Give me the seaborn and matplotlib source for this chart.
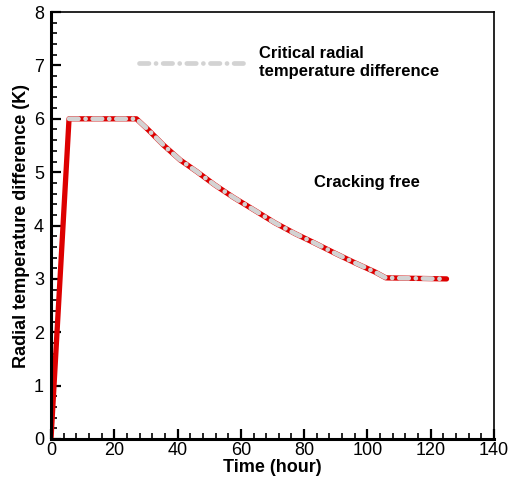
import matplotlib
matplotlib.use("Agg")
import matplotlib.pyplot as plt
import seaborn as sns
import pandas as pd
import numpy as np

# Data
time_red = [0.0, 5.7, 27.0, 30.8, 35.5, 40.8, 46.1, 51.8, 57.6, 64.5, 70.8,
            77.1, 83.4, 89.8, 96.1, 102.4, 105.8, 125.0]
dT_red = [0.0, 6.0, 6.0, 5.79, 5.51, 5.23, 5.01, 4.76, 4.53, 4.28, 4.05,
          3.85, 3.67, 3.48, 3.30, 3.13, 3.02, 3.0]
time_crit = [5.7, 27.0, 30.8, 35.5, 40.8, 46.1, 51.8, 57.6, 64.5, 70.8,
             77.1, 83.4, 89.8, 96.1, 102.4, 105.8, 125.0]
dT_crit = [6.0, 6.0, 5.79, 5.51, 5.23, 5.01, 4.76, 4.53, 4.28, 4.05,
           3.85, 3.67, 3.48, 3.30, 3.13, 3.02, 3.0]
xticks = [0, 20, 40, 60, 80, 100, 120, 140]
yticks = [0, 1, 2, 3, 4, 5, 6, 7, 8]

sns.set_theme(style="white")
plt.rcParams['font.family'] = ['Liberation Sans', 'DejaVu Sans']

fig = plt.figure(figsize=(5.1, 4.84), dpi=100)
ax = fig.add_axes([0.1, 0.093, 0.8686, 0.882])

df_red = pd.DataFrame({"t": time_red, "v": dT_red})
df_crit = pd.DataFrame({"t": time_crit, "v": dT_crit})

sns.lineplot(data=df_red, x="t", y="v", ax=ax, color="#dd0000", linewidth=3.8,
             sort=False, legend=False)
sns.lineplot(data=df_crit, x="t", y="v", ax=ax, color="#d3d3d3", linewidth=3.4,
             sort=False, label="Critical radial\ntemperature difference",
             dashes=False)
crit_line = ax.lines[-1]
crit_line.set_linestyle((0, (2.0, 1.5, 0.01, 1.5)))
crit_line.set_dash_capstyle("round")
crit_line.set_solid_joinstyle("round")

ax.set_xlim(0, 140)
ax.set_ylim(0, 8)
ax.set_xticks(xticks)
ax.set_yticks(yticks)
ax.set_xticks(np.arange(0, 141, 4), minor=True)
ax.set_yticks(np.arange(0, 8.01, 0.2), minor=True)
ax.tick_params(axis="both", which="major", direction="in", length=7, width=1.6,
               labelsize=13, bottom=True, left=True, top=False, right=False,
               colors="black")
ax.tick_params(axis="x", which="major", pad=2)
ax.tick_params(axis="y", which="major", pad=5)
ax.tick_params(axis="both", which="minor", direction="in", length=4, width=1.2,
               bottom=True, left=True, top=False, right=False, colors="black")

for s in ["left", "bottom"]:
    ax.spines[s].set_linewidth(2.2)
    ax.spines[s].set_color("black")
for s in ["top", "right"]:
    ax.spines[s].set_linewidth(1.2)
    ax.spines[s].set_color("black")

ax.set_xlabel("Time (hour)", fontsize=13, fontweight="bold", labelpad=0, color="black")
ax.set_ylabel("Radial temperature difference (K)", fontsize=13, fontweight="bold",
              labelpad=3, color="black")

leg = ax.legend(loc="upper left", bbox_to_anchor=(0.1655, 0.955), frameon=False,
                handlelength=6.2, handletextpad=1.0,
                prop={"weight": "bold", "size": 12})
for txt in leg.get_texts():
    txt.set_color("black")

ax.text(100, 4.81, "Cracking free", fontsize=12, fontweight="bold",
        ha="center", va="center", color="black")

fig.savefig("out.png", dpi=100)
